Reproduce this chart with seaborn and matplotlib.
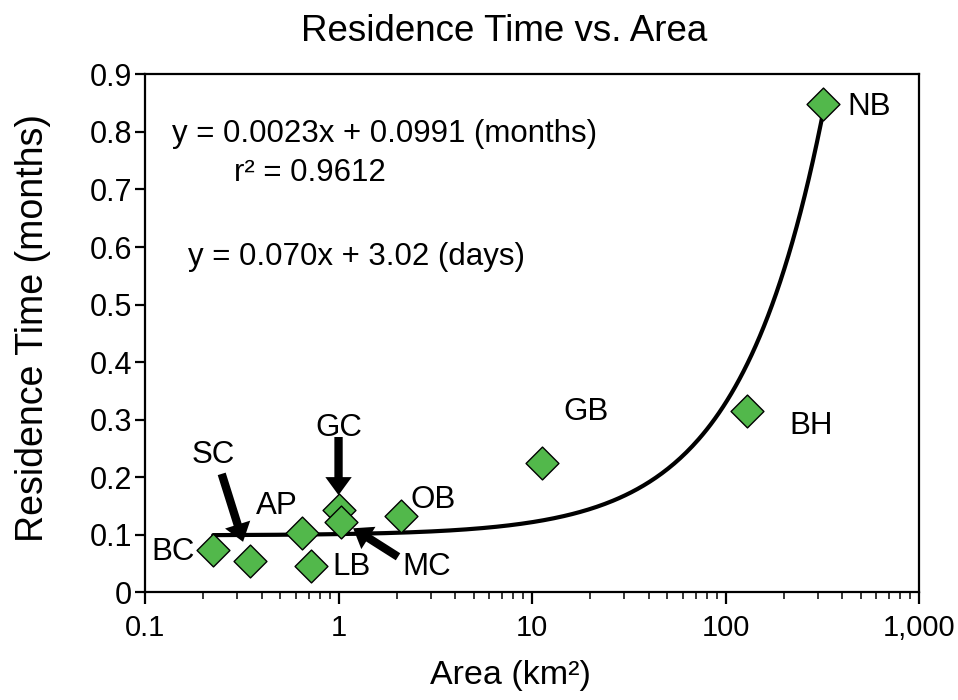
import numpy as np
import pandas as pd
import matplotlib
matplotlib.use("Agg")
import matplotlib.pyplot as plt
import seaborn as sns

# ---- data ----
sites = ["BC", "SC", "AP", "LB", "GC", "MC", "OB", "GB", "BH", "NB"]
area_km2 = [0.225, 0.348, 0.644, 0.724, 1.006, 1.027, 2.11, 11.3, 128.5, 319.0]
res_months = [0.074, 0.055, 0.104, 0.046, 0.143, 0.123, 0.132, 0.225, 0.316, 0.849]

fit_slope = 0.0023
fit_intercept = 0.0991

x_ticks = [0.1, 1, 10, 100, 1000]
x_tick_labels = ["0.1", "1", "10", "100", "1,000"]
y_ticks = [0, 0.1, 0.2, 0.3, 0.4, 0.5, 0.6, 0.7, 0.8, 0.9]
y_tick_labels = ["0", "0.1", "0.2", "0.3", "0.4", "0.5", "0.6", "0.7", "0.8", "0.9"]

df = pd.DataFrame({"site": sites, "area": area_km2, "rt": res_months})

# ---- styling ----
sns.set_theme(style="white")
plt.rcParams["font.family"] = ["Liberation Sans", "DejaVu Sans"]
plt.rcParams["text.color"] = "black"
plt.rcParams["axes.labelcolor"] = "black"

fig = plt.figure(figsize=(9.58, 7.0), dpi=100)
ax = fig.add_axes([0.1514, 0.1536, 0.8079, 0.7403])

# fitted trend line (from displayed equation), evaluated across data range
xf = np.logspace(np.log10(min(area_km2)), np.log10(max(area_km2)), 300)
fit_df = pd.DataFrame({"area": xf, "rt": fit_slope * xf + fit_intercept})
sns.lineplot(data=fit_df, x="area", y="rt", ax=ax, color="black", lw=3.0,
             zorder=2, legend=False)

sns.scatterplot(data=df, x="area", y="rt", ax=ax, marker="D", s=280,
                color="#52b84b", edgecolor="black", linewidth=1.0, zorder=3,
                legend=False)

ax.set_xscale("log")
ax.set_xlim(0.1, 1000)
ax.set_ylim(0, 0.9)
ax.set_xticks(x_ticks)
ax.set_xticklabels(x_tick_labels)
ax.set_yticks(y_ticks)
ax.set_yticklabels(y_tick_labels)
ax.xaxis.set_minor_locator(matplotlib.ticker.LogLocator(base=10, subs=np.arange(2, 10)))
ax.xaxis.set_minor_formatter(matplotlib.ticker.NullFormatter())

for sp in ax.spines.values():
    sp.set_visible(True)
    sp.set_color("black")
    sp.set_linewidth(1.6)

ax.tick_params(axis="x", which="major", direction="out", length=8.6, width=1.6,
               labelsize=21, pad=7, colors="black", bottom=True)
ax.tick_params(axis="x", which="minor", direction="out", length=5, width=1.3,
               bottom=True)
ax.tick_params(axis="y", which="major", direction="out", length=7.5, width=1.6,
               labelsize=22, pad=2, colors="black", left=True)

ax.set_xlabel("Area (km²)", fontsize=24.5, color="black")
ax.xaxis.set_label_coords(0.4716, -0.13)
ax.set_ylabel("Residence Time (months)", fontsize=27, color="black")
ax.yaxis.set_label_coords(-0.122, 0.51)
ax.set_title("Residence Time vs. Area", fontsize=26.5, pad=24, color="black",
             x=0.464)

# ---- point labels ----
label_pos = {
    "BC": (0.14, 0.071),
    "AP": (0.479, 0.150),
    "LB": (1.16, 0.045),
    "OB": (3.08, 0.161),
    "GB": (18.9, 0.314),
    "BH": (277, 0.290),
    "NB": (552, 0.843),
    "SC": (0.224, 0.239),
    "GC": (1.0, 0.285),
    "MC": (2.84, 0.045),
}
for name, (lx, ly) in label_pos.items():
    ax.text(lx, ly, name, fontsize=22.5, ha="center", va="center", color="black",
            zorder=5)

# ---- arrows ----
arrows = [
    ((0.249, 0.206), (0.321, 0.088)),   # SC
    ((1.0, 0.270), (1.0, 0.169)),       # GC
    ((2.03, 0.062), (1.19, 0.1115)),    # MC
]
for (tx, ty), (hx, hy) in arrows:
    ax.annotate("", xy=(hx, hy), xytext=(tx, ty),
                arrowprops=dict(arrowstyle="simple,head_length=0.65,head_width=0.95,tail_width=0.3",
                                mutation_scale=20, fc="black", ec="none", lw=0,
                                shrinkA=0, shrinkB=0),
                zorder=4)

# ---- equations ----
ax.text(1.73, 0.797, "y = 0.0023x + 0.0991 (months)", fontsize=22.5,
        ha="center", va="center", color="black")
ax.text(0.71, 0.728, "r² = 0.9612", fontsize=22.5, ha="center", va="center",
        color="black")
ax.text(1.24, 0.583, "y = 0.070x + 3.02 (days)", fontsize=22.5,
        ha="center", va="center", color="black")

fig.savefig("out.png", dpi=100)
